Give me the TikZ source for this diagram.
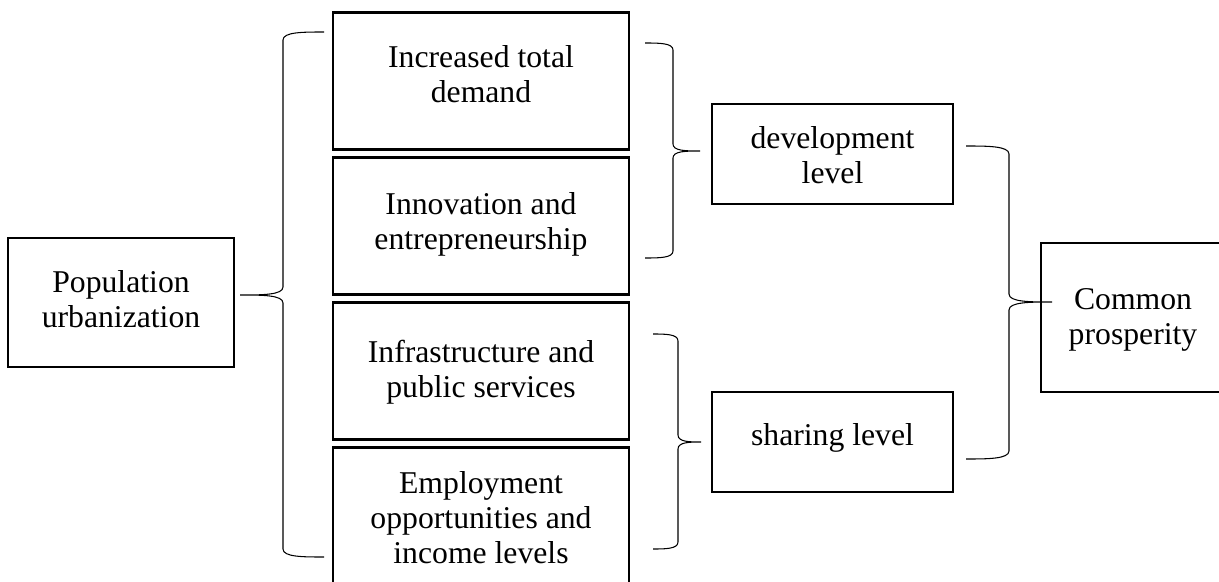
\documentclass[tikz,border=0pt]{standalone}
\usepackage{fontspec}
\setmainfont{Liberation Serif}

\begin{document}
\begin{tikzpicture} [
	x = 0.3785pt, y = -0.3785pt,
	box/.style = {draw, line width=0.9pt, inner sep=0pt},
	cause/.style = {box, minimum width=112pt, minimum height=51.9pt},
	level/.style = {box, minimum width=91.2pt, minimum height=37.9pt},
	txt/.style = {align=center, inner sep=0pt, font=\fontsize{12}{13.25}\selectfont},
	bracket/.style = {line width=0.4pt}
]
\useasboundingbox (0,0) rectangle (1219,582);
\node [box, minimum width=85.5pt, minimum height=48.8pt] (pop) at (121,302.5) {};
\node [cause] (demand) at (481,81) {};
\node [cause] (innov) at (481,226) {};
\node [cause] (infra) at (481,371) {};
\node [cause] (employ) at (481,516) {};
\node [level] (dev) at (832.5,154) {};
\node [level] (share) at (832.5,442) {};
\node [box, minimum width=69.6pt, minimum height=56.4pt] (common) at (1133,317.5) {};
\node [txt] (poptxt) at (121,299) {Population\\urbanization};
\node [txt] (demandtxt) at (481,74) {Increased total\\demand};
\node [txt] (innovtxt) at (481,224) {Innovation and\\entrepreneurship};
\node [txt] (infratxt) at (481,372) {Infrastructure and\\public services};
\node [txt] (employtxt) at (481,518) {Employment\\opportunities and\\income levels};
\node [txt] (devtxt) at (832.5,155) {development\\level};
\node [txt] (sharetxt) at (832.5,438) {sharing level};
\node [txt] (commontxt) at (1133,320) {Common\\prosperity};
\coordinate (lbtop) at (324,32);
\coordinate (lbtip) at (240,295);
\coordinate (lbbot) at (324,557);
\coordinate (dbtop) at (645,43);
\coordinate (dbtip) at (700,151);
\coordinate (dbbot) at (645,258);
\coordinate (sbtop) at (653,334);
\coordinate (sbtip) at (701,442);
\coordinate (sbbot) at (653,549);
\coordinate (cbtop) at (966,146);
\coordinate (cbtip) at (1052,302);
\coordinate (cbbot) at (966,459);
\draw [bracket] (lbtop) .. controls (303,32) and (283,32) .. (283,40) -- (283,287)
	.. controls (283,295) and (262,295) .. (lbtip) .. controls (262,295) and (283,295) .. (283,303)
	-- (283,549) .. controls (283,557) and (303,557) .. (lbbot);
\draw [bracket] (dbtop) .. controls (659,43) and (673,43) .. (673,50) -- (673,144)
	.. controls (673,151) and (686,151) .. (dbtip) .. controls (686,151) and (673,151) .. (673,158)
	-- (673,251) .. controls (673,258) and (659,258) .. (dbbot);
\draw [bracket] (sbtop) .. controls (665,334) and (678,334) .. (678,341) -- (678,435)
	.. controls (678,442) and (690,442) .. (sbtip) .. controls (690,442) and (678,442) .. (678,449)
	-- (678,542) .. controls (678,549) and (665,549) .. (sbbot);
\draw [bracket] (cbtop) .. controls (987,146) and (1009,146) .. (1009,154) -- (1009,294)
	.. controls (1009,302) and (1030,302) .. (cbtip) .. controls (1030,302) and (1009,302) .. (1009,310)
	-- (1009,451) .. controls (1009,459) and (987,459) .. (cbbot);
\end{tikzpicture}
\end{document}
